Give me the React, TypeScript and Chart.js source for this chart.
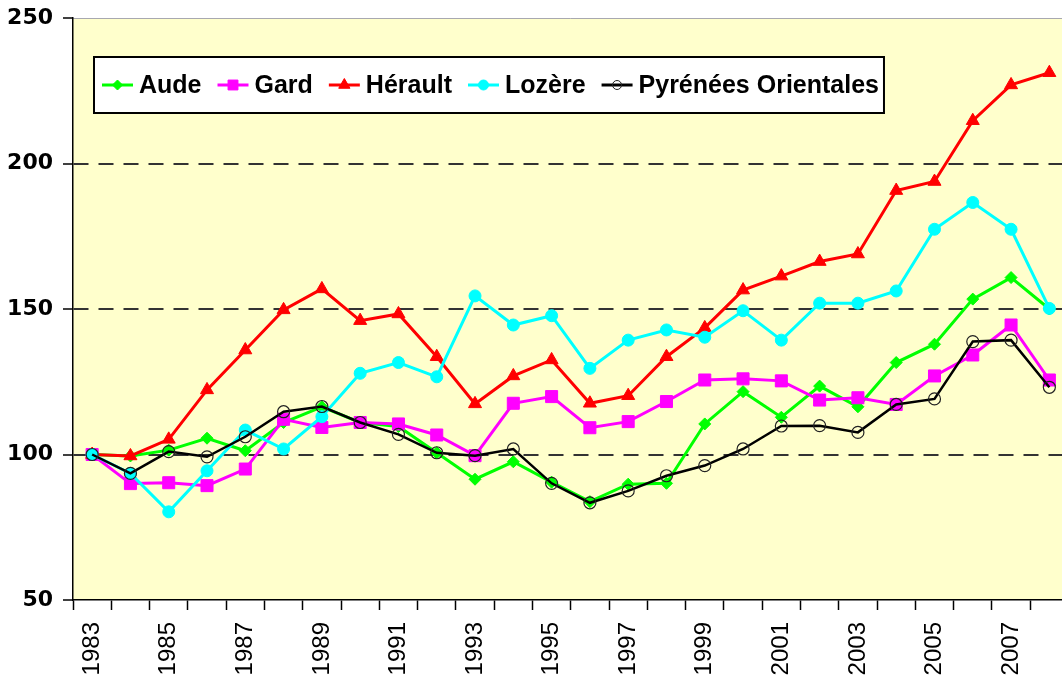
import React, { useEffect, useRef } from 'react';
import { Chart, registerables } from 'chart.js';
import { drawPoint } from 'chart.js/helpers';

Chart.register(...registerables);

const years = [
  '1983', '1984', '1985', '1986', '1987', '1988', '1989', '1990', '1991', '1992', '1993', '1994', '1995',
  '1996', '1997', '1998', '1999', '2000', '2001', '2002', '2003', '2004', '2005', '2006', '2007', '2008',
];

const aude = [100, 99.5, 101.5, 105.6, 101.3, 111, 116.4, 111, 109.6, 100.6, 91.5, 97.5, 90.5, 83.8, 89.8, 90.1, 110.5, 121.6, 112.8, 123.5, 116.4, 131.6, 137.9, 153.4, 160.8, 150];
const gard = [100, 90, 90.3, 89.3, 95, 112.1, 109.3, 111, 110.5, 106.7, 99.6, 117.6, 119.9, 109.2, 111.3, 118.2, 125.6, 126, 125.3, 118.7, 119.5, 117.2, 127, 134.2, 144.5, 125.6];
const herault = [100, 99.5, 105.2, 122.2, 135.9, 149.7, 156.9, 146, 148.3, 133.6, 117.4, 127, 132.5, 117.6, 120.2, 133.6, 143.5, 156.5, 161.3, 166.3, 168.9, 190.7, 193.8, 214.7, 227, 231.2];
const lozere = [100, 93.5, 80.3, 94.4, 108.4, 101.9, 113, 127.9, 131.6, 126.7, 154.5, 144.5, 147.7, 129.6, 139.3, 142.8, 140.3, 149.4, 139.3, 152, 152, 156.2, 177.4, 186.6, 177.4, 150.2];
const pyrenees = [100, 93.5, 101, 99.2, 106.1, 114.7, 116.5, 111, 106.9, 100.6, 99.6, 101.9, 90.1, 83.4, 87.5, 92.7, 96.2, 101.9, 109.8, 109.9, 107.6, 117.2, 119.1, 138.8, 139.3, 123.1];

const yTicks = [50, 100, 150, 200, 250];
const dashedValues = [100, 150, 200];

const seriesNames = ['Aude', 'Gard', 'Hérault', 'Lozère', 'Pyrénées Orientales'];
const seriesColors = ['#00FF00', '#FF00FF', '#FF0000', '#00FFFF', '#000000'];
const seriesStyles = ['rectRot', 'rect', 'triangle', 'circle', 'circle'];
const seriesRadius = [6, 8.5, 7.5, 6, 6];
const legendRadius = [5, 7, 6.5, 5, 4.5];

const plotBg = {
  id: 'plotBg',
  beforeDraw(chart: any) {
    const { ctx, chartArea: a } = chart;
    ctx.save();
    ctx.fillStyle = '#FFFFCC';
    ctx.fillRect(a.left, a.top, a.right - a.left, a.bottom - a.top);
    ctx.strokeStyle = '#A8A8B0';
    ctx.lineWidth = 1;
    ctx.beginPath();
    ctx.moveTo(a.left, a.top + 0.5);
    ctx.lineTo(a.right, a.top + 0.5);
    ctx.stroke();
    ctx.restore();
  },
};

const boxLegend = {
  id: 'boxLegend',
  afterDraw(chart: any) {
    const { ctx, chartArea: a } = chart;
    const ds = chart.data.datasets;
    ctx.save();
    ctx.font = 'bold 25px "Liberation Sans", Arial, sans-serif';
    const left = a.left + 21;
    const top = a.top + 39;
    const h = 56;
    const cy = top + h / 2;
    let x = left + 8;
    const items: any[] = [];
    ds.forEach((d: any, i: number) => {
      const tw = ctx.measureText(d.label).width;
      items.push({ x, tw, i, d });
      x += 37 + tw + 16;
    });
    const right = x - 16 + 5;
    ctx.fillStyle = '#FFFFFF';
    ctx.fillRect(left, top, right - left, h);
    ctx.strokeStyle = '#000';
    ctx.lineWidth = 2;
    ctx.strokeRect(left, top, right - left, h);
    items.forEach(({ x: ix, i, d }) => {
      ctx.strokeStyle = d.borderColor;
      ctx.lineWidth = 3;
      ctx.beginPath();
      ctx.moveTo(ix, cy);
      ctx.lineTo(ix + 31, cy);
      ctx.stroke();
      ctx.fillStyle = d.pointBackgroundColor;
      ctx.strokeStyle = d.pointBorderColor;
      ctx.lineWidth = 1;
      drawPoint(ctx, { pointStyle: d.pointStyle, rotation: 0, radius: legendRadius[i], borderWidth: 1 }, ix + 15.5, cy);
      ctx.fillStyle = '#000';
      ctx.textBaseline = 'middle';
      ctx.textAlign = 'left';
      ctx.fillText(d.label, ix + 37, cy + 1);
    });
    ctx.restore();
  },
};

export default function App() {
  const ref = useRef<HTMLCanvasElement | null>(null);

  useEffect(() => {
    if (!ref.current) return;
    const values = [aude, gard, herault, lozere, pyrenees];
    const datasets = values.map((v, i) => ({
      label: seriesNames[i],
      data: v,
      borderColor: seriesColors[i],
      backgroundColor: seriesColors[i],
      borderWidth: i === 4 ? 2.5 : 3,
      pointStyle: seriesStyles[i],
      pointRadius: seriesRadius[i],
      pointHoverRadius: seriesRadius[i],
      pointBackgroundColor: i === 4 ? 'rgba(0,0,0,0)' : seriesColors[i],
      pointBorderColor: i === 4 ? '#222' : seriesColors[i],
      pointBorderWidth: i === 4 ? 1.2 : 1,
      tension: 0,
      fill: false,
      order: 5 - i,
    }));

    const chart = new Chart(ref.current, {
      type: 'line',
      data: { labels: years, datasets },
      plugins: [plotBg, boxLegend],
      options: {
        animation: false,
        responsive: true,
        maintainAspectRatio: false,
        events: [],
        layout: { padding: { top: 18, left: 0, right: 0, bottom: 0 } },
        plugins: { legend: { display: false }, tooltip: { enabled: false } },
        scales: {
          x: {
            type: 'category',
            offset: true,
            grid: {
              offset: true,
              drawOnChartArea: false,
              drawTicks: true,
              tickLength: 10,
              tickColor: '#000',
              tickWidth: 1.5,
            },
            border: { color: '#000', width: 1.5 },
            ticks: {
              autoSkip: false,
              minRotation: 90,
              maxRotation: 90,
              padding: 12,
              color: '#000',
              font: { family: '"Liberation Sans", Arial, sans-serif', size: 24 },
              callback: function (this: any, v: any, i: number) {
                return i % 2 === 0 ? this.getLabelForValue(v) : '';
              },
            },
            afterFit(s: any) {
              s.height = 79;
              s.paddingLeft = 0;
              s.paddingRight = 0;
            },
          },
          y: {
            min: yTicks[0],
            max: yTicks[yTicks.length - 1],
            afterBuildTicks(s: any) {
              s.ticks = yTicks.map((v) => ({ value: v }));
            },
            ticks: {
              padding: 10,
              color: '#000',
              font: { family: '"DejaVu Sans", sans-serif', size: 22, weight: 'bold' },
            },
            grid: {
              color: (c: any) => (c.tick && dashedValues.includes(c.tick.value) ? '#333333' : 'rgba(0,0,0,0)'),
              lineWidth: 2,
              tickColor: '#000',
              tickLength: 10,
              tickWidth: 1.5,
            },
            border: { color: '#000', width: 1.5, dash: [15, 10] },
            afterFit(s: any) {
              s.width = 73;
              s.paddingTop = 0;
              s.paddingBottom = 0;
            },
          },
        },
      } as any,
    });
    return () => chart.destroy();
  }, []);

  return (
    <div style={{ position: 'absolute', left: 0, top: 0, width: 1062, height: 679, overflow: 'hidden', background: '#fff' }}>
      <div style={{ position: 'relative', width: 1078, height: 679 }}>
        <canvas ref={ref} />
      </div>
    </div>
  );
}
